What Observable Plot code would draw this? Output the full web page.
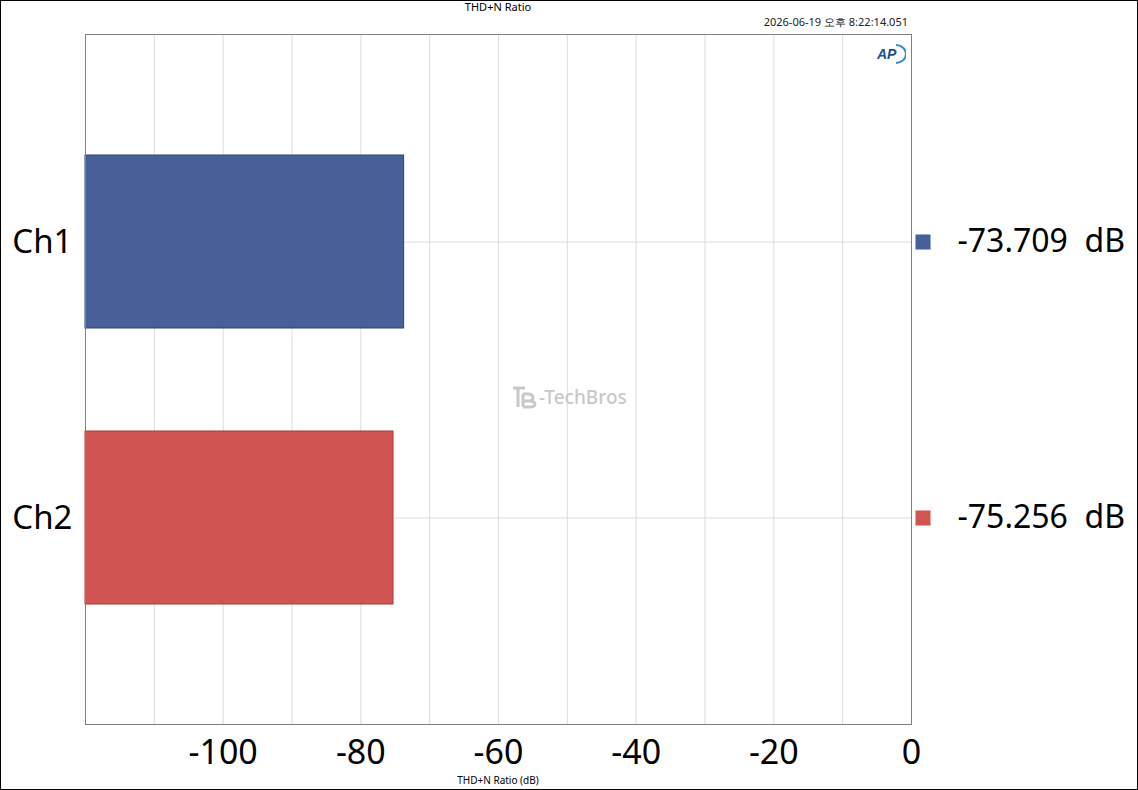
<!DOCTYPE html>
<html><head><meta charset="utf-8">
<script src="https://cdn.jsdelivr.net/npm/d3@7"></script>
<script src="https://cdn.jsdelivr.net/npm/@observablehq/plot@0.6"></script>
<style>
body{margin:0;background:#fff}
#wrap{position:relative;width:1138px;height:790px;overflow:hidden;font-family:"Noto Sans",sans-serif;background:#fff}
#border{position:absolute;left:0;top:0;width:1138px;height:790px;box-sizing:border-box;border:1px solid #000;pointer-events:none}
.ov{position:absolute;white-space:nowrap;line-height:1}
</style></head><body><div id="wrap"></div>
<script>
const channels = ["Ch1", "Ch2"];
const values = [-73.709, -75.256];
const barColors = ["#37528f", "#cc4743"];
const barStrokes = ["#2c427a", "#a83a36"];
const legendColors = ["#45609a", "#d05652"];
const xDomain = [-120, 0];
const xTickLabels = [-100, -80, -60, -40, -20, 0];
const xGridTicks = [-110, -100, -90, -80, -70, -60, -50, -40, -30, -20, -10];
const title = "THD+N Ratio";
const timestamp = "2026-06-19 오후 8:22:14.051";
const xLabel = "THD+N Ratio (dB)";

const data = channels.map((c, i) => ({ch: c, v: values[i], fill: barColors[i], stroke: barStrokes[i], legend: legendColors[i]}));

const plot = Plot.plot({
  width: 1138, height: 790,
  marginLeft: 85, marginRight: 227, marginTop: 34, marginBottom: 66,
  style: {background: "transparent", fontFamily: "Noto Sans, sans-serif"},
  x: {domain: xDomain},
  y: {type: "band", domain: channels, paddingInner: 0.375, paddingOuter: 0.433},
  marks: [
    Plot.gridX(xGridTicks, {stroke: "#dcdcdc", strokeOpacity: 1}),
    Plot.gridY(channels, {stroke: "#dcdcdc", strokeOpacity: 1}),
    Plot.barX(data, {x1: () => xDomain[0], x2: "v", y: "ch", fill: d => d.fill, fillOpacity: 0.92, stroke: d => d.stroke, strokeWidth: 1}),
    Plot.frame({stroke: "#808080", strokeWidth: 1}),
    Plot.axisX(xTickLabels, {tickSize: 0, tickPadding: 15, fontSize: 34, tickFormat: d => String(d), fill: "#000", fontFamily: "Noto Sans, sans-serif", label: null}),
    Plot.axisY(channels, {tickSize: 0, tickPadding: 13, fontSize: 33, fill: "#000", fontFamily: "Noto Sans, sans-serif", label: null}),
    Plot.dot(data, {y: "ch", frameAnchor: "right", dx: 11.5, symbol: "square", r: 8.5, fill: d => d.legend}),
    Plot.text(data, {y: "ch", frameAnchor: "right", dx: 46, text: d => `${d.v.toFixed(3)}  dB`, textAnchor: "start", fontSize: 32, fill: "#000", fontFamily: "Noto Sans, sans-serif"})
  ]
});

const wrap = document.getElementById("wrap");
wrap.appendChild(plot);

function addText(txt, css) {
  const d = document.createElement("div");
  d.className = "ov";
  d.textContent = txt;
  Object.assign(d.style, css);
  wrap.appendChild(d);
  return d;
}
addText(title, {left: "498px", top: "1px", transform: "translateX(-50%)", fontSize: "11px", color: "#000"});
addText(timestamp, {right: "230px", top: "16px", fontSize: "11px", color: "#222"});
addText(xLabel, {left: "498px", top: "775px", transform: "translateX(-50%)", fontSize: "10px", color: "#000"});

// AP logo
const ap = document.createElement("div");
ap.className = "ov";
Object.assign(ap.style, {left: "874px", top: "42px"});
ap.innerHTML = '<svg width="32" height="24"><text x="3" y="17" font-size="14" font-weight="bold" font-style="italic" fill="#1b4f8f" font-family="Liberation Sans, sans-serif">AP</text><path d="M22 3 A10 9 0 0 1 22 21" fill="none" stroke="#3a8cc8" stroke-width="2"/></svg>';
wrap.appendChild(ap);

// watermark
const wm = document.createElement("div");
wm.className = "ov";
Object.assign(wm.style, {left: "512px", top: "385px", display: "flex", alignItems: "center", gap: "3px"});
wm.innerHTML = '<svg width="26" height="24"><path d="M1 3 H13 M6 3 V22" stroke="#c8c8c8" stroke-width="3" fill="none"/><path d="M11 9 H16 Q21 9 21 13 Q21 16 16 16 H11 M16 16 Q23 16 23 19.5 Q23 22 17 22 H11 M11 9 V22" stroke="#c8c8c8" stroke-width="3" fill="none"/></svg><span style="color:#c8c8c8;font-size:19px;font-weight:500;font-family:Noto Sans,sans-serif;margin-left:-2px">-TechBros</span>';
wrap.appendChild(wm);

const border = document.createElement("div");
border.id = "border";
wrap.appendChild(border);
</script>
</body></html>
